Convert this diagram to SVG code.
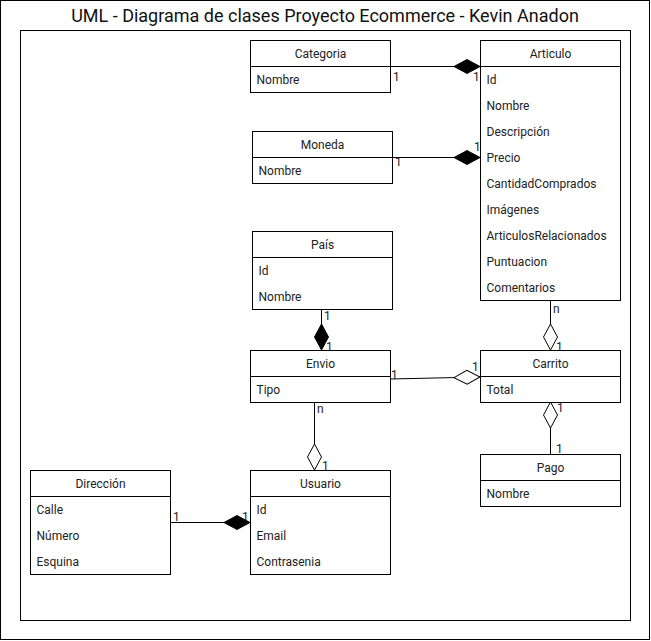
<svg xmlns="http://www.w3.org/2000/svg" width="651" height="641" viewBox="0 0 651 641">
<style>
.frame{fill:#fff;stroke:#000;stroke-width:1}
.box{fill:#fff;stroke:#000;stroke-width:1}
.div{stroke:#000;stroke-width:1}
.hdr{font-family:Roboto,"Liberation Sans",sans-serif;font-size:12px;fill:#222;text-anchor:middle}
.att{font-family:Roboto,"Liberation Sans",sans-serif;font-size:12px;fill:#222}
.lbl{font-family:Roboto,"Liberation Sans",sans-serif;font-size:12px;fill:#222}
.title{font-family:Roboto,"Liberation Sans",sans-serif;font-size:18px;fill:#111;text-anchor:middle}
.edge{fill:none;stroke:#000;stroke-width:1}
.filled{marker-end:url(#dFilled)}
.open{marker-end:url(#dOpen)}
</style>
<defs>
<marker id="dFilled" markerUnits="userSpaceOnUse" viewBox="-1 -1 28 16" markerWidth="28" markerHeight="16" refX="26" refY="7" orient="auto">
<path d="M0,7 L13,0 L26,7 L13,14 Z" fill="#000" stroke="#000" stroke-width="1"/>
</marker>
<marker id="dOpen" markerUnits="userSpaceOnUse" viewBox="-1 -1 28 16" markerWidth="28" markerHeight="16" refX="26" refY="7" orient="auto">
<path d="M0,7 L13,0 L26,7 L13,14 Z" fill="#fff" stroke="#000" stroke-width="1"/>
</marker>
</defs>
<rect class="frame" x="0.5" y="0.5" width="649" height="639"/>
<text class="title" x="325" y="22">UML - Diagrama de clases Proyecto Ecommerce - Kevin Anadon</text>
<rect class="frame" x="20.5" y="30.5" width="610" height="590"/>

<g id="connectors">
<path class="edge filled" d="M390,66.5 H480"/>
<path class="edge filled" d="M392,157.5 H480"/>
<path class="edge filled" d="M321.5,309 V350"/>
<path class="edge open" d="M550.5,300 V350"/>
<path class="edge open" d="M390,379 L480,377"/>
<path class="edge open" d="M314.5,402 V470"/>
<path class="edge filled" d="M170,522.5 H250"/>
<path class="edge open" d="M550.5,454 V402"/>
<text class="lbl" x="393" y="81">1</text>
<text class="lbl" x="473" y="81">1</text>
<text class="lbl" x="395" y="166">1</text>
<text class="lbl" x="474" y="151">1</text>
<text class="lbl" x="324" y="320">1</text>
<text class="lbl" x="326" y="351">1</text>
<text class="lbl" x="553" y="313">n</text>
<text class="lbl" x="556" y="351">1</text>
<text class="lbl" x="391" y="379">1</text>
<text class="lbl" x="472" y="371">1</text>
<text class="lbl" x="317" y="413">n</text>
<text class="lbl" x="322" y="470">1</text>
<text class="lbl" x="173" y="521">1</text>
<text class="lbl" x="242" y="521">1</text>
<text class="lbl" x="557" y="412">1</text>
<text class="lbl" x="556" y="453">1</text>
</g>

<g id="categoria">
<rect class="box" x="250.5" y="40.5" width="140" height="52"/>
<line class="div" x1="250.5" y1="66.5" x2="390.5" y2="66.5"/>
<text class="hdr" x="320.5" y="57.5">Categoria</text>
<text class="att" x="256.5" y="83.5">Nombre</text>
</g>

<g id="articulo">
<rect class="box" x="480.5" y="40.5" width="140" height="260"/>
<line class="div" x1="480.5" y1="66.5" x2="620.5" y2="66.5"/>
<text class="hdr" x="550.5" y="57.5">Articulo</text>
<text class="att" x="486.5" y="83.5">Id</text>
<text class="att" x="486.5" y="109.5">Nombre</text>
<text class="att" x="486.5" y="135.5">Descripción</text>
<text class="att" x="486.5" y="161.5">Precio</text>
<text class="att" x="486.5" y="187.5">CantidadComprados</text>
<text class="att" x="486.5" y="213.5">Imágenes</text>
<text class="att" x="486.5" y="239.5">ArticulosRelacionados</text>
<text class="att" x="486.5" y="265.5">Puntuacion</text>
<text class="att" x="486.5" y="291.5">Comentarios</text>
</g>

<g id="moneda">
<rect class="box" x="252.5" y="131.5" width="140" height="52"/>
<line class="div" x1="252.5" y1="157.5" x2="392.5" y2="157.5"/>
<text class="hdr" x="322.5" y="148.5">Moneda</text>
<text class="att" x="258.5" y="174.5">Nombre</text>
</g>

<g id="pais">
<rect class="box" x="252.5" y="231.5" width="140" height="78"/>
<line class="div" x1="252.5" y1="257.5" x2="392.5" y2="257.5"/>
<text class="hdr" x="322.5" y="248.5">País</text>
<text class="att" x="258.5" y="274.5">Id</text>
<text class="att" x="258.5" y="300.5">Nombre</text>
</g>

<g id="envio">
<rect class="box" x="250.5" y="350.5" width="140" height="52"/>
<line class="div" x1="250.5" y1="376.5" x2="390.5" y2="376.5"/>
<text class="hdr" x="320.5" y="367.5">Envio</text>
<text class="att" x="256.5" y="393.5">Tipo</text>
</g>

<g id="carrito">
<rect class="box" x="480.5" y="350.5" width="140" height="52"/>
<line class="div" x1="480.5" y1="376.5" x2="620.5" y2="376.5"/>
<text class="hdr" x="550.5" y="367.5">Carrito</text>
<text class="att" x="486.5" y="393.5">Total</text>
</g>

<g id="pago">
<rect class="box" x="480.5" y="454.5" width="140" height="52"/>
<line class="div" x1="480.5" y1="480.5" x2="620.5" y2="480.5"/>
<text class="hdr" x="550.5" y="471.5">Pago</text>
<text class="att" x="486.5" y="497.5">Nombre</text>
</g>

<g id="direccion">
<rect class="box" x="30.5" y="470.5" width="140" height="104"/>
<line class="div" x1="30.5" y1="496.5" x2="170.5" y2="496.5"/>
<text class="hdr" x="100.5" y="487.5">Dirección</text>
<text class="att" x="36.5" y="513.5">Calle</text>
<text class="att" x="36.5" y="539.5">Número</text>
<text class="att" x="36.5" y="565.5">Esquina</text>
</g>

<g id="usuario">
<rect class="box" x="250.5" y="470.5" width="140" height="104"/>
<line class="div" x1="250.5" y1="496.5" x2="390.5" y2="496.5"/>
<text class="hdr" x="320.5" y="487.5">Usuario</text>
<text class="att" x="256.5" y="513.5">Id</text>
<text class="att" x="256.5" y="539.5">Email</text>
<text class="att" x="256.5" y="565.5">Contrasenia</text>
</g>
</svg>
